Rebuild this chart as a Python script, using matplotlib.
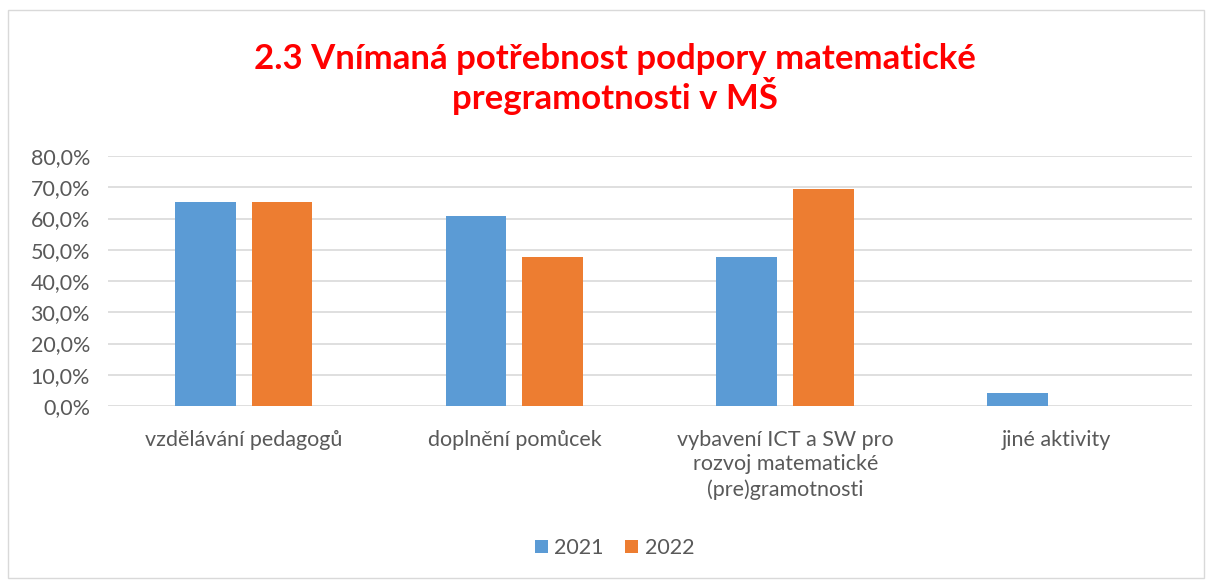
import matplotlib.pyplot as plt
import numpy as np
from matplotlib.patches import Rectangle

plt.rcParams['font.family'] = ['Lato', 'DejaVu Sans']

categories = ['vzdělávání pedagogů', 'doplnění pomůcek',
              'vybavení ICT a SW pro\nrozvoj matematické\n(pre)gramotnosti', 'jiné aktivity']
vals_2021 = [65.2, 60.9, 47.8, 4.3]
vals_2022 = [65.2, 47.8, 69.6, 0.0]
yticks = [0, 10, 20, 30, 40, 50, 60, 70, 80]
title = '2.3 Vnímaná potřebnost podpory matematické\npregramotnosti v MŠ'

blue = '#5B9BD5'
orange = '#ED7D31'
grey_txt = '#595959'

fig = plt.figure(figsize=(12.1, 5.83), dpi=100)
fig.patches.append(Rectangle((0.007, 0.009), 0.988, 0.974, transform=fig.transFigure,
                             fill=False, edgecolor='#D9D9D9', linewidth=1))

ax = fig.add_axes([0.0893, 0.3036, 0.8957, 0.4288])
x = np.arange(len(categories))
w = 0.225
off = 0.142
ax.bar(x - off, vals_2021, w, color=blue, label='2021', zorder=3)
ax.bar(x + off, vals_2022, w, color=orange, label='2022', zorder=3)

ax.set_xlim(-0.5, len(categories) - 0.5)
ax.set_ylim(0, 80)
ax.set_yticks(yticks)
ax.set_yticklabels([f'{v:.1f}%'.replace('.', ',') for v in yticks])
ax.set_xticks(x)
ax.set_xticklabels(categories, linespacing=1.3, va='top')
ax.tick_params(axis='both', length=0, labelsize=15.5, colors=grey_txt)
ax.tick_params(axis='x', pad=17)
ax.tick_params(axis='y', pad=13)
ax.grid(axis='y', color='#D9D9D9', linewidth=1.2, zorder=0)
for s in ax.spines.values():
    s.set_visible(False)

fig.text(0.508, 0.864, title, ha='center', va='center', color='#FF0000',
         fontsize=25, fontweight='bold', linespacing=1.05)

fig.legend(loc='center', bbox_to_anchor=(0.508, 0.06), ncol=2, frameon=False,
           fontsize=15.5, handlelength=0.6, handleheight=0.6, columnspacing=1.0,
           handletextpad=0.3, labelcolor=grey_txt)

fig.savefig('out.png', dpi=100)
